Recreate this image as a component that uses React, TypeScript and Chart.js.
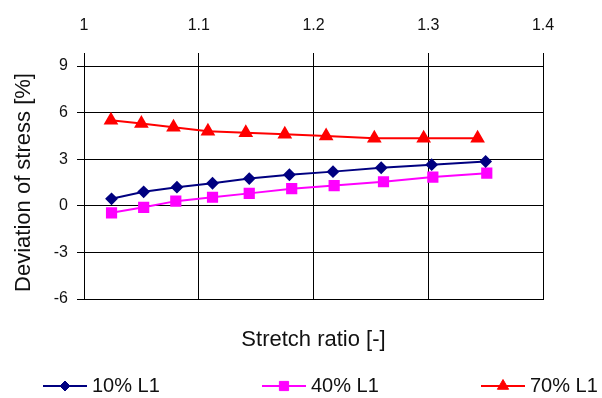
import React, { useEffect, useRef } from "react";
import { Chart, registerables } from "chart.js";
import { drawPoint } from "chart.js/helpers";

Chart.register(...registerables);

// Stretch ratio (x) and stress deviation in % (y) for each loading level
const stretch10 = [1.024, 1.052, 1.081, 1.112, 1.144, 1.179, 1.217, 1.259, 1.303, 1.35];
const dev10 = [0.45, 0.9, 1.2, 1.45, 1.75, 2.0, 2.2, 2.45, 2.65, 2.85];

const stretch40 = [1.024, 1.052, 1.08, 1.112, 1.144, 1.181, 1.218, 1.261, 1.304, 1.351];
const dev40 = [-0.45, -0.1, 0.3, 0.55, 0.8, 1.1, 1.3, 1.55, 1.85, 2.1];

const stretch70 = [1.0235, 1.05, 1.078, 1.108, 1.141, 1.175, 1.211, 1.253, 1.296, 1.343];
const dev70 = [5.5, 5.3, 5.05, 4.8, 4.7, 4.6, 4.5, 4.35, 4.35, 4.35];

const seriesLabels = ["10% L1", "40% L1", "70% L1"];

const FONT = "'Liberation Sans', Arial, Helvetica, sans-serif";

const toPoints = (xs: number[], ys: number[]) => xs.map((x, i) => ({ x, y: ys[i] }));

// Legend drawn as line + marker samples spread across the bottom strip
const lineLegend = {
  id: "lineLegend",
  afterDraw(chart: any) {
    const { ctx } = chart;
    const startX = 43;
    const slot = 219;
    const sampleW = 44;
    const y = chart.height - 12;
    ctx.save();
    chart.data.datasets.forEach((ds: any, i: number) => {
      const x0 = startX + i * slot;
      ctx.strokeStyle = ds.borderColor;
      ctx.lineWidth = 2;
      ctx.beginPath();
      ctx.moveTo(x0, y);
      ctx.lineTo(x0 + sampleW, y);
      ctx.stroke();
      ctx.fillStyle = ds.pointBackgroundColor;
      ctx.strokeStyle = ds.pointBorderColor;
      ctx.lineWidth = 1;
      drawPoint(
        ctx,
        { pointStyle: ds.pointStyle, radius: ds.pointRadius, borderWidth: 1, rotation: 0 } as any,
        x0 + sampleW / 2,
        y
      );
      ctx.fillStyle = "#111";
      ctx.font = `20px ${FONT}`;
      ctx.textAlign = "left";
      ctx.textBaseline = "middle";
      ctx.fillText(ds.label, x0 + sampleW + 5, y);
    });
    ctx.restore();
  },
};

export default function App() {
  const canvasRef = useRef<HTMLCanvasElement | null>(null);

  useEffect(() => {
    if (!canvasRef.current) return;
    const chart = new Chart(canvasRef.current, {
      type: "line",
      data: {
        datasets: [
          {
            label: seriesLabels[0],
            data: toPoints(stretch10, dev10),
            borderColor: "#000080",
            backgroundColor: "#000080",
            pointBackgroundColor: "#000080",
            pointBorderColor: "#000080",
            pointStyle: "rectRot",
            pointRadius: 5,
            borderWidth: 2,
          },
          {
            label: seriesLabels[1],
            data: toPoints(stretch40, dev40),
            borderColor: "#FF00FF",
            backgroundColor: "#FF00FF",
            pointBackgroundColor: "#FF00FF",
            pointBorderColor: "#FF00FF",
            pointStyle: "rect",
            pointRadius: 6.5,
            borderWidth: 2,
          },
          {
            label: seriesLabels[2],
            data: toPoints(stretch70, dev70),
            borderColor: "#FF0000",
            backgroundColor: "#FF0000",
            pointBackgroundColor: "#FF0000",
            pointBorderColor: "#FF0000",
            pointStyle: "triangle",
            pointRadius: 6.5,
            borderWidth: 2,
          },
        ],
      },
      options: {
        responsive: false,
        animation: false,
        layout: { padding: { left: 0, right: 59, top: 0, bottom: 40 } },
        plugins: {
          legend: { display: false },
          tooltip: { enabled: false },
        },
        scales: {
          x: {
            type: "linear",
            position: "top",
            min: 1,
            max: 1.4,
            ticks: {
              stepSize: 0.1,
              color: "#111",
              padding: 18,
              font: { family: FONT, size: 16 },
              callback: (v: any) => String(Math.round(Number(v) * 10) / 10),
            },
            grid: { color: "#000", lineWidth: 1, tickLength: 13 },
            border: { color: "#000" },
            afterFit: (s: any) => {
              s.height = 66;
            },
          },
          xb: {
            type: "linear",
            position: "bottom",
            min: 1,
            max: 1.4,
            ticks: { display: false },
            grid: { display: false },
            border: { display: true, color: "#000", width: 1 },
            title: {
              display: true,
              text: "Stretch ratio [-]",
              color: "#111",
              padding: { top: 0, bottom: 5 },
              font: { family: FONT, size: 22 },
            },
            afterFit: (s: any) => {
              s.height = 59;
            },
          },
          y: {
            type: "linear",
            min: -6,
            max: 9,
            ticks: {
              stepSize: 3,
              color: "#111",
              padding: 9,
              font: { family: FONT, size: 16 },
            },
            grid: { color: "#000", lineWidth: 1, tickLength: 7 },
            border: { color: "#000" },
            title: {
              display: true,
              text: "Deviation of stress [%]",
              color: "#111",
              padding: { top: 11, bottom: 0 },
              font: { family: FONT, size: 22 },
            },
            afterFit: (s: any) => {
              s.width = 84;
            },
          },
        },
      },
      plugins: [lineLegend],
    });
    return () => chart.destroy();
  }, []);

  return (
    <div style={{ position: "absolute", left: 0, top: 0, width: 602, height: 398, background: "#fff" }}>
      <canvas ref={canvasRef} width={602} height={398} />
    </div>
  );
}
